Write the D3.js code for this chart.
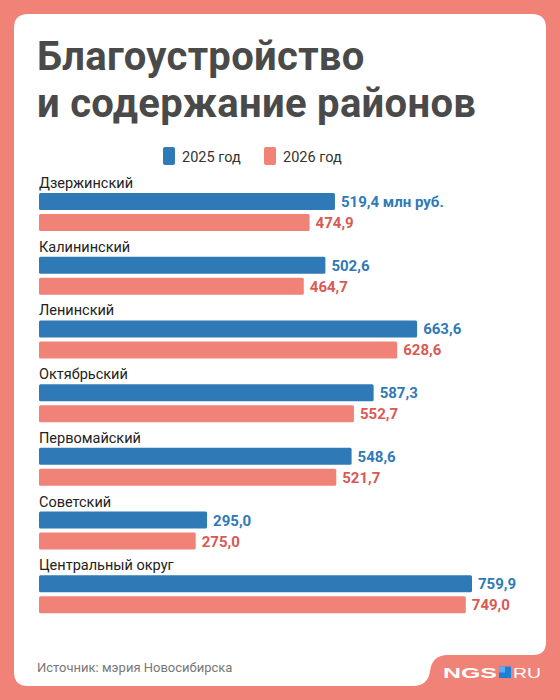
<!DOCTYPE html>
<html>
<head>
<meta charset="utf-8">
<script src="https://cdn.jsdelivr.net/npm/d3@7"></script>
<style>
  html, body { margin: 0; padding: 0; background: #F08278; }
  svg { display: block; font-family: Roboto, "Noto Sans", sans-serif; }
</style>
</head>
<body>
<div id="chart"></div>
<script>
// data
var districts = ["Дзержинский", "Калининский", "Ленинский", "Октябрьский", "Первомайский", "Советский", "Центральный округ"];
var values2025 = [519.4, 502.6, 663.6, 587.3, 548.6, 295.0, 759.9];
var values2026 = [474.9, 464.7, 628.6, 552.7, 521.7, 275.0, 749.0];
var years = ["2025 год", "2026 год"];

var svgWidth = 560;
var svgHeight = 700;
var blue = "#2F7AB6";
var salmon = "#F08278";
var salmonText = "#D95A54";

var svg = d3.select("#chart").append("svg")
    .attr("width", svgWidth)
    .attr("height", svgHeight);

// background + card
svg.append("rect").attr("width", svgWidth).attr("height", svgHeight).attr("fill", salmon);
svg.append("path")
    .attr("fill", "#fff")
    .attr("d", "M14,28 Q14,14 28,14 L532,14 Q546,14 546,28 L546,642 Q546,655 533,655 L448,655 Q432,655 430,671 Q428,686 413,686 L28,686 Q14,686 14,672 Z");

// title
var title = svg.append("text")
    .attr("x", 37)
    .attr("fill", "#4A4A4A")
    .style("font-size", "40px")
    .style("font-weight", "700")
    .style("letter-spacing", "0.3px");
title.append("tspan").attr("x", 37).attr("y", 70).text("Благоустройство");
title.append("tspan").attr("x", 37).attr("y", 117).text("и содержание районов");

// legend
var legend = svg.selectAll(".legend")
    .data(years)
    .enter().append("g")
    .attr("transform", function(d, i) { return "translate(" + (163 + i * 101) + ",147)"; });
legend.append("rect")
    .attr("width", 12).attr("height", 18).attr("rx", 2)
    .attr("fill", function(d, i) { return i == 0 ? blue : salmon; });
legend.append("text")
    .attr("x", 19).attr("y", 15)
    .attr("fill", "#333")
    .style("font-size", "14.5px")
    .text(function(d) { return d; });

// scales
var x = d3.scaleLinear().domain([0, 759.9]).range([39, 472]);
var y = d3.scaleBand().domain(districts).range([170, 616]);
var barH = 17;

var groups = svg.selectAll(".district")
    .data(districts)
    .enter().append("g")
    .attr("transform", function(d) { return "translate(0," + y(d) + ")"; });

groups.append("text")
    .attr("x", 39).attr("y", 18)
    .attr("fill", "#222")
    .style("font-size", "14.5px")
    .text(function(d) { return d; });

groups.append("rect")
    .attr("x", x(0)).attr("y", 23)
    .attr("height", barH).attr("rx", 1.5)
    .attr("width", function(d, i) { return x(values2025[i]) - x(0); })
    .attr("fill", blue);

groups.append("rect")
    .attr("x", x(0)).attr("y", 44)
    .attr("height", barH).attr("rx", 1.5)
    .attr("width", function(d, i) { return x(values2026[i]) - x(0); })
    .attr("fill", salmon);

var fmt = function(v) { return v.toFixed(1).replace(".", ","); };

groups.append("text")
    .attr("x", function(d, i) { return x(values2025[i]) + 6; })
    .attr("y", 37)
    .attr("fill", blue)
    .style("font-size", "15px")
    .style("font-weight", "700")
    .text(function(d, i) { return fmt(values2025[i]) + (i == 0 ? " млн руб." : ""); });

groups.append("text")
    .attr("x", function(d, i) { return x(values2026[i]) + 6; })
    .attr("y", 58)
    .attr("fill", salmonText)
    .style("font-size", "15px")
    .style("font-weight", "700")
    .text(function(d, i) { return fmt(values2026[i]); });

// footer
svg.append("text")
    .attr("x", 37).attr("y", 672)
    .attr("fill", "#777")
    .style("font-size", "13px")
    .text("Источник: мэрия Новосибирска");

var logo = svg.append("g").attr("transform", "translate(443,678)");
logo.append("text")
    .attr("x", 0).attr("y", 0)
    .attr("fill", "#fff")
    .attr("textLength", 54)
    .attr("lengthAdjust", "spacingAndGlyphs")
    .style("font-size", "15.5px")
    .style("font-weight", "900")
    .style("font-family", "Arial, 'Liberation Sans', sans-serif")
    .text("NGS");
logo.append("rect").attr("x", 56).attr("y", -11.5).attr("width", 12).attr("height", 11.5).attr("fill", "#1E7FD8");
logo.append("rect").attr("x", 56).attr("y", -11.5).attr("width", 6).attr("height", 6).attr("fill", "#5AAEF0");
logo.append("text")
    .attr("x", 70).attr("y", 0)
    .attr("fill", "#fff")
    .attr("textLength", 28)
    .attr("lengthAdjust", "spacingAndGlyphs")
    .style("font-size", "15.5px")
    .style("font-family", "Arial, 'Liberation Sans', sans-serif")
    .text("RU");
</script>
</body>
</html>
